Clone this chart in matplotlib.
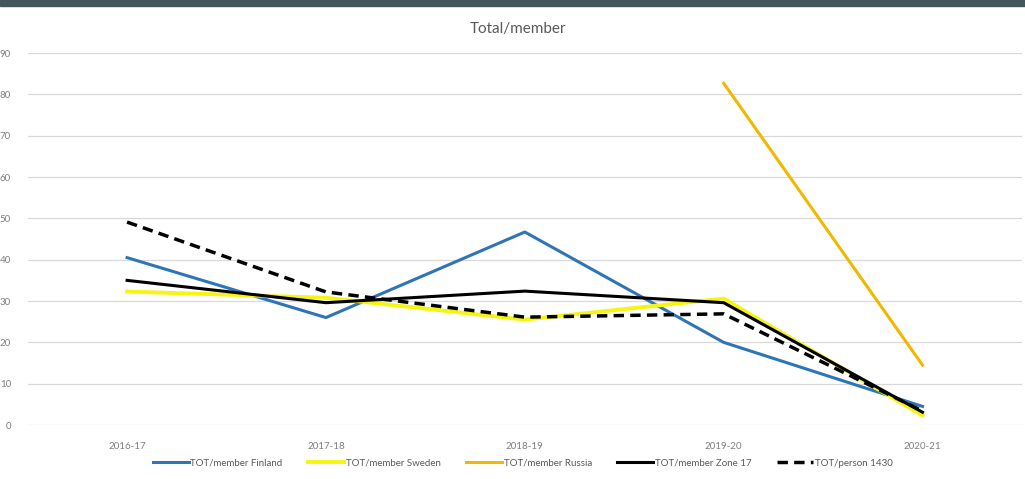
import matplotlib
matplotlib.use("Agg")
import matplotlib.pyplot as plt
from matplotlib.patches import Rectangle

plt.rcParams['font.family'] = ['Lato', 'DejaVu Sans']

seasons = ['2016-17', '2017-18', '2018-19', '2019-20', '2020-21']
finland = [40.5, 26.0, 46.7, 20.0, 4.5]
sweden = [32.3, 30.8, 25.5, 30.6, 2.3]
russia = [None, None, None, 82.7, 14.5]
zone17 = [35.0, 29.6, 32.4, 29.6, 3.1]
person1430 = [49.1, 32.2, 26.1, 26.9, 3.4]

fig = plt.figure(figsize=[10.25, 4.79], dpi=100)
ax = fig.add_axes([0.027, 0.1127, 0.970, 0.7765])

x = list(range(len(seasons)))
ax.plot(x, finland, color='#2e75b6', linewidth=2.2, label='TOT/member Finland')
ax.plot(x, sweden, color='#f5f514', linewidth=2.8, label='TOT/member Sweden')
rx = [i for i, v in zip(x, russia) if v is not None]
ry = [v for v in russia if v is not None]
ax.plot(rx, ry, color='#f0b800', linewidth=2.2, label='TOT/member Russia')
ax.plot(x, zone17, color='black', linewidth=2.2, label='TOT/member Zone 17')
ax.plot(x, person1430, color='black', linewidth=2.5, linestyle=(0, (3, 1.8)), label='TOT/person 1430')

ax.set_xlim(-0.5, 4.5)
ax.set_ylim(0, 90)
ax.set_yticks(range(0, 91, 10))
ax.set_xticks(x)
ax.set_xticklabels(seasons)
ax.grid(axis='y', color='#d9d9d9', linewidth=0.9)
ax.set_axisbelow(True)
for s in ax.spines.values():
    s.set_visible(False)
ax.tick_params(axis='both', length=0, labelsize=7, labelcolor='#7f7f7f')
ax.tick_params(axis='y', pad=12)
ax.tick_params(axis='x', pad=12)

fig.text(0.505, 0.94, 'Total/member', ha='center', va='center', fontsize=11, color='#595959')

fig.legend(loc='center', bbox_to_anchor=(0.51, 0.033), ncol=5, frameon=False,
           fontsize=7, handlelength=3.7, columnspacing=2.6, handletextpad=0.2,
           labelcolor='#595959')

fig.patches.append(Rectangle((0, 0.987), 1, 0.013, transform=fig.transFigure,
                             color='#44575c', zorder=10))

plt.savefig('out.png')
